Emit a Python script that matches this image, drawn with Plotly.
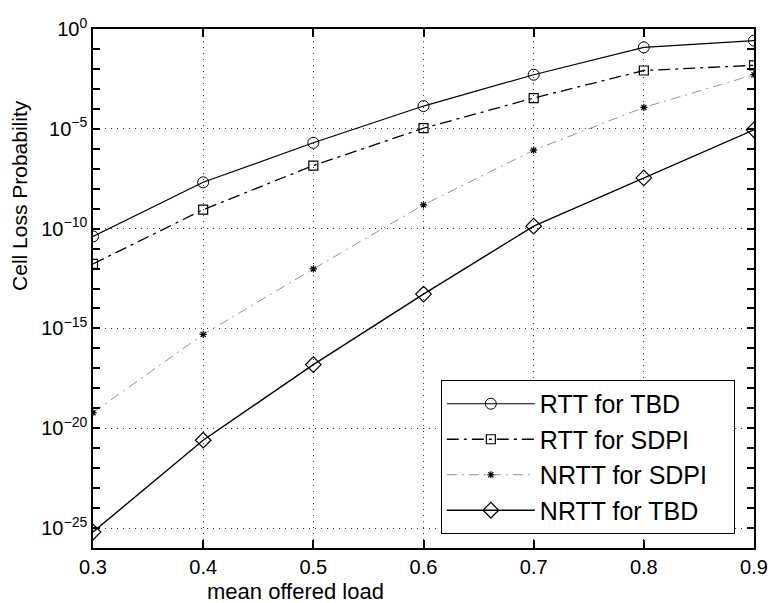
import plotly.graph_objects as go

load = [0.3, 0.4, 0.5, 0.6, 0.7, 0.8, 0.9]
rtt_tbd_exp = [-10.39, -7.68, -5.70, -3.86, -2.29, -0.92, -0.58]
rtt_sdpi_exp = [-11.77, -9.05, -6.84, -4.97, -3.46, -2.08, -1.82]
nrtt_sdpi_exp = [-19.22, -15.30, -12.02, -8.81, -6.07, -3.93, -2.29]
nrtt_tbd_exp = [-25.2, -20.6, -16.81, -13.28, -9.88, -7.46, -5.05]

names = ["RTT for TBD", "RTT for SDPI", "NRTT for SDPI", "NRTT for TBD"]
y_label_exp = [0, -5, -10, -15, -20, -25]
y_tick_exp = list(range(-26, 1))
x_ticks = [0.3, 0.4, 0.5, 0.6, 0.7, 0.8, 0.9]

PAD = "\u00a0" * 3

def p(e):
    return [10 ** v for v in e]

def label(e):
    return "10<sup>%s</sup>" % (str(e) if e == 0 else "\u2212" + str(-e))

FONT = "Liberation Sans, Arial, sans-serif"

fig = go.Figure()
fig.add_trace(go.Scatter(x=load, y=p(rtt_tbd_exp), name=names[0] + PAD, mode="lines+markers",
                         line=dict(color="black", width=1.2),
                         marker=dict(symbol="circle-open", size=11, color="black", line=dict(width=1))))
fig.add_trace(go.Scatter(x=load, y=p(rtt_sdpi_exp), name=names[1] + PAD, mode="lines+markers",
                         line=dict(color="black", width=1.3, dash="12px,5px,3px,5px"),
                         marker=dict(symbol="square-open", size=9, color="black", line=dict(width=1.2))))
fig.add_trace(go.Scatter(x=load, y=p(nrtt_sdpi_exp), name=names[2] + PAD, mode="lines+markers",
                         line=dict(color="#888888", width=0.9, dash="10px,5px,2px,5px"),
                         marker=dict(symbol="asterisk-open", size=6, color="black", line=dict(width=1.2, color="black"))))
fig.add_trace(go.Scatter(x=load, y=p(nrtt_tbd_exp), name=names[3] + PAD, mode="lines+markers",
                         line=dict(color="black", width=1.4),
                         marker=dict(symbol="diamond-open", size=12, color="black", line=dict(width=1.2))))
# invisible helper trace so the tick-only overlay axis is drawn
fig.add_trace(go.Scatter(x=[load[0]], y=[10 ** rtt_tbd_exp[0]], yaxis="y2", mode="markers",
                         marker=dict(opacity=0), showlegend=False, hoverinfo="skip"))

fig.update_layout(
    template="none",
    width=773, height=603,
    margin=dict(l=93, r=19, t=29, b=55),
    paper_bgcolor="white", plot_bgcolor="white",
    font=dict(family=FONT, size=18, color="black"),
    showlegend=True,
    legend=dict(x=0.971, y=0.027, xanchor="right", yanchor="bottom",
                bordercolor="black", borderwidth=1, bgcolor="white",
                font=dict(size=25, family=FONT), itemwidth=88,
                tracegroupgap=0),
    annotations=[
        dict(text="mean offered load", xref="paper", yref="paper",
             x=(295 - 93) / 661, y=-0.083, xanchor="center", yanchor="middle",
             showarrow=False, font=dict(size=22)),
        dict(text="Cell Loss Probability", xref="paper", yref="paper",
             x=-0.112, y=(548 - 195) / 519, xanchor="center", yanchor="middle",
             textangle=-90, showarrow=False, font=dict(size=21)),
    ],
    xaxis=dict(
        range=[0.3, 0.9], tickvals=x_ticks, ticktext=[str(v) for v in x_ticks],
        ticks="inside", ticklen=8, tickcolor="black", tickwidth=2,
        showline=True, linecolor="black", linewidth=1.5, mirror="ticks",
        showgrid=True, gridcolor="#333333", griddash="1px,5px", gridwidth=1,
        zeroline=False, tickfont=dict(size=20),
    ),
    yaxis=dict(
        type="log", range=[-26, 0],
        tickvals=[10 ** e for e in y_label_exp],
        ticktext=[label(e) for e in y_label_exp],
        ticks="inside", ticklen=7, tickcolor="black", tickwidth=2,
        showline=True, linecolor="black", linewidth=1.5, mirror="ticks",
        showgrid=True, gridcolor="#333333", griddash="1px,5px", gridwidth=1,
        zeroline=False, tickfont=dict(size=20),
    ),
    yaxis2=dict(
        type="log", range=[-26, 0], overlaying="y", side="left", anchor="x",
        tickvals=[10 ** e for e in y_tick_exp], showticklabels=False,
        ticks="inside", ticklen=7, tickcolor="black", tickwidth=2,
        showline=True, linecolor="black", linewidth=1.5, mirror="ticks",
        showgrid=False, zeroline=False,
    ),
)

fig.write_html("out.html")
